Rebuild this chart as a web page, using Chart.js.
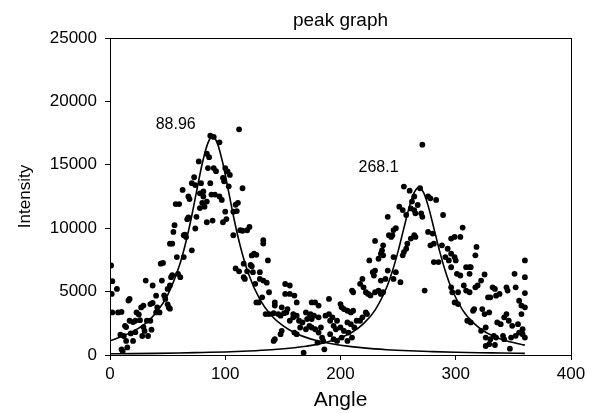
<!DOCTYPE html>
<html>
<head>
<meta charset="utf-8">
<script src="https://cdn.jsdelivr.net/npm/chart.js@4"></script>
<style>
html, body { margin: 0; padding: 0; background: #fff; }
canvas { display: block; }
</style>
</head>
<body>
<canvas id="peakChart" width="594" height="413"></canvas>
<script>

// measured points [angle, intensity]
const measured = [
[1,7060],[2,5820],[6,5210],[1.5,4820],[2,3360],[7,3360],[10,3400],[17,4420],[16,4300],[13,2300],[14,2200],[12,1500],[9,1600],[10,450],[11,300],[14,1110],[20,1110],[17,2700],[20,2600],[23,3360],[25,3200],[22,2700],[26,2750],[27,3750],[29,3900],[30,1900],[28,1500],[29,2200],[31,5870],[35,4020],[37,4100],[32,2700],[35,2700],[37,5480],[40,4680],[40,3360],[43,3360],[41,3750],[44,7200],[46,7260],[45,5870],[47,4700],[48,4420],[50,5210],[52,5480],[52,8780],[54,8780],[55,9710],[51,3750],[50,4000],[53,6140],[18,1700],[33,1500],[36,2000],[22,1800],[15,600],
[87,17300],[90,17200],[95,16770],[84,15870],[86,15600],[77,15270],[85,14740],[90,14740],[92,14500],[100,14740],[102,14470],[104,14200],[73,14020],[98,13970],[99,13700],[71,13550],[74,13400],[79,13550],[87,13550],[103,13300],[115,13150],[63,13020],[81,12900],[78,12750],[81,12500],[88,12650],[91,12650],[95,12500],[97,12230],[68,12500],[69,12300],[57,11900],[60,11900],[80,12000],[84,12100],[111,12000],[109,11850],[78,11590],[82,11700],[100,11300],[107,11300],[110,11350],[67,10715],[68,10850],[56,10240],[75,10900],[74,9975],[84,10470],[89,10600],[98,10470],[101,10720],[113,9840],[115,9800],[64,9445],[66,9300],[65,9500],[107,9445],[58,7725],[64,7725],[71,8255],[109,6825],[112,6600],[116,6140],[54,6300],[59,6400],[61,6140],[52,3650],[112,17800],
[119,9840],[121,10100],[133,9050],[133,8790],[125,7990],[127,7900],[123,7850],[137,7460],[116,7200],[123,7000],[122,7100],[124,6535],[119,6600],[130,6535],[117,6000],[130,6000],[133,5870],[126,5610],[136,5700],[138,4950],[152,5600],[156,5480],[127,4150],[129,4150],[132,4550],[152,4820],[156,4820],[160,4690],[143,4150],[143,3900],[149,3760],[154,3620],[162,4150],[135,3230],[138,3230],[142,3300],[146,3230],[148,3100],[151,3300],[153,3360],[159,3230],[162,3100],[159,2970],[170,3360],[174,3230],[175,4150],[156,2700],[164,2700],[167,2570],[171,2830],[173,2970],[175,2830],[177,3100],[149,1905],[148,1640],[143,1245],[142,1110],[165,2170],[170,2030],[173,2300],[175,2170],[168,185],[160,1770],[162,1640],
[230,8995],[237,8650],[236,8250],[235,7990],[237,7860],[225,7460],[233,7590],[228,6530],[230,6660],[229,6270],[219,6000],[217,5610],[220,5340],[210,5080],[211,4950],[222,4950],[224,4820],[226,4700],[230,4950],[233,5080],[235,4820],[237,4950],[178,4150],[181,3900],[190,4420],[200,4020],[201,3760],[203,3620],[206,3490],[209,3360],[211,3490],[222,3360],[223,3230],[219,2970],[217,2700],[187,3100],[190,3230],[193,2970],[191,2700],[197,2700],[181,2970],[206,2570],[209,2430],[214,2700],[183,2170],[178,2030],[181,1770],[194,2300],[196,2030],[200,2170],[203,1900],[207,1770],[212,2170],[191,1640],[194,1245],[197,1110],[201,1375],[206,1110],[210,1375],[184,1375],[185,1110],[180,980],[186,450],
[271,16590],[269,13150],[255,13280],[260,12960],[264,12500],[262,12100],[276,12500],[278,12360],[283,12230],[251,11700],[254,11430],[267,11830],[261,11560],[264,11430],[265,11170],[270,11170],[271,10900],[241,10900],[257,11040],[289,11040],[248,10000],[246,9850],[245,9450],[242,9450],[244,9310],[264,9450],[265,9310],[261,9180],[276,9710],[280,9580],[296,9180],[299,9310],[258,8780],[257,8380],[278,8650],[281,8780],[288,8650],[293,8380],[296,7990],[291,7720],[299,7720],[246,7720],[254,7860],[255,8120],[281,7330],[285,7330],[294,7460],[296,6920],[241,6660],[248,6530],[246,6000],[239,6000],[235,5870],[252,5740],[273,5080],[296,5340],[297,4950],[299,4150],
[306,10050],[304,9310],[300,7460],[318,8520],[317,7860],[301,6400],[304,6270],[309,6930],[312,6930],[313,6930],[312,6400],[325,6350],[322,5870],[319,5480],[317,5340],[307,5480],[309,5080],[312,4950],[302,4950],[360,7460],[351,6400],[360,6140],[332,5340],[334,5210],[328,4550],[330,4550],[335,4680],[338,4820],[344,5340],[345,5080],[352,5340],[360,4880],[302,4020],[316,3620],[315,3490],[323,3620],[325,3230],[329,3360],[355,4280],[357,3900],[360,3760],[310,2700],[313,2570],[357,3230],[336,2570],[339,2430],[344,3230],[342,2970],[346,2700],[349,2300],[322,1905],[326,2170],[354,2430],[358,2030],[355,1770],[326,1375],[330,1245],[333,1510],[335,1375],[341,1510],[342,1245],[348,1375],[352,1510],[326,710],[329,850],[334,790],[347,500],[358,1640],[360,1375]
];

// fitted curve, first peak
const fitAngle1 = [0,10,20,30,40,50,60,65,70,75,80,85,89,93,98,103,108,113,120,130,140,150,160,170,180,190,200,220,240,260,280,300,320,340,360];
const fitPeak1 = [1120,1450,1860,2440,3330,4730,6990,8600,10570,12840,15080,16730,17200,16730,15080,12840,10570,8600,6450,4390,3120,2310,1760,1390,1120,920,770,560,420,330,270,220,180,160,130];

// fitted curve, second peak
const fitAngle2 = [0,20,40,60,80,100,120,140,160,170,180,190,200,210,220,230,240,245,250,255,260,264,268,272,276,281,286,291,296,306,316,326,336,346,360];
const fitPeak2 = [100,110,130,160,200,240,310,410,570,690,840,1060,1360,1790,2470,3540,5320,6600,8190,10010,11780,12820,13200,12820,11780,10010,8190,6600,5320,3540,2470,1790,1360,1060,780];

// peak position labels
const peakLabels = ['88.96', '268.1'];
const peakLabelAt = [[57, 18180], [233, 14790]];

const chartTitle = 'peak graph';
const xTicks = [0, 100, 200, 300, 400];
const yTicks = [0, 5000, 10000, 15000, 20000, 25000];

const FONT = "'Liberation Sans', Arial, sans-serif";
Chart.defaults.font.family = FONT;
Chart.defaults.color = '#000';

function toXY(xs, ys){
  return xs.map((x, i) => ({x: x, y: ys[i]}));
}

// title over the plot area, frame round it, and the peak labels
const framePlugin = {
  id: 'frame',
  afterDraw(chart){
    const ctx = chart.ctx;
    const a = chart.chartArea;
    ctx.save();
    ctx.strokeStyle = '#000';
    ctx.lineWidth = 1;
    ctx.strokeRect(Math.round(a.left) + 0.5, Math.round(a.top) + 0.5,
      Math.round(a.right - a.left), Math.round(a.bottom - a.top));
    ctx.fillStyle = '#000';
    ctx.textAlign = 'center';
    ctx.textBaseline = 'alphabetic';
    ctx.font = "19px " + FONT;
    ctx.fillText(chartTitle, (a.left + a.right) / 2, 26);
    ctx.font = "16px " + FONT;
    ctx.textBaseline = 'middle';
    peakLabels.forEach((t, i) => {
      const px = chart.scales.x.getPixelForValue(peakLabelAt[i][0]);
      const py = chart.scales.y.getPixelForValue(peakLabelAt[i][1]);
      ctx.fillText(t, px, py);
    });
    ctx.restore();
  }
};

new Chart(document.getElementById('peakChart'), {
  type: 'scatter',
  data: {
    datasets: [
      {
        label: 'measured',
        data: measured.map(p => ({x: p[0], y: p[1]})),
        backgroundColor: '#000',
        borderColor: '#000',
        pointRadius: 2.9,
        pointBorderWidth: 0,
        showLine: false
      },
      {
        label: 'fit 1',
        data: toXY(fitAngle1, fitPeak1),
        showLine: true,
        borderColor: '#000',
        borderWidth: 1.6,
        pointRadius: 0,
        cubicInterpolationMode: 'monotone',
        fill: false
      },
      {
        label: 'fit 2',
        data: toXY(fitAngle2, fitPeak2),
        showLine: true,
        borderColor: '#000',
        borderWidth: 1.6,
        pointRadius: 0,
        cubicInterpolationMode: 'monotone',
        fill: false
      }
    ]
  },
  options: {
    responsive: false,
    animation: false,
    events: [],
    layout: { padding: { left: 0, right: 23, top: 38, bottom: 0 } },
    plugins: {
      legend: { display: false },
      tooltip: { enabled: false },
      title: { display: false }
    },
    scales: {
      x: {
        type: 'linear',
        min: 0,
        max: 400,
        afterBuildTicks: s => { s.ticks = xTicks.map(v => ({value: v})); },
        afterFit: s => { s.height = 58; },
        ticks: { font: { size: 17 }, color: '#000', padding: 4, maxRotation: 0 },
        grid: { drawOnChartArea: false, color: '#000', tickLength: 5 },
        border: { color: '#000', width: 1 },
        title: { display: true, text: 'Angle', color: '#000', font: { size: 21 }, padding: { top: 0, bottom: 0 } }
      },
      y: {
        min: 0,
        max: 25000,
        afterBuildTicks: s => { s.ticks = yTicks.map(v => ({value: v})); },
        afterFit: s => { s.width = 110; },
        ticks: { font: { size: 17 }, color: '#000', padding: 8, callback: v => String(v) },
        grid: { drawOnChartArea: false, color: '#000', tickLength: 5 },
        border: { color: '#000', width: 1 },
        title: { display: true, text: 'Intensity', color: '#000', font: { size: 17 }, padding: { top: 15, bottom: 0 } }
      }
    }
  },
  plugins: [framePlugin]
});
</script>
</body>
</html>
